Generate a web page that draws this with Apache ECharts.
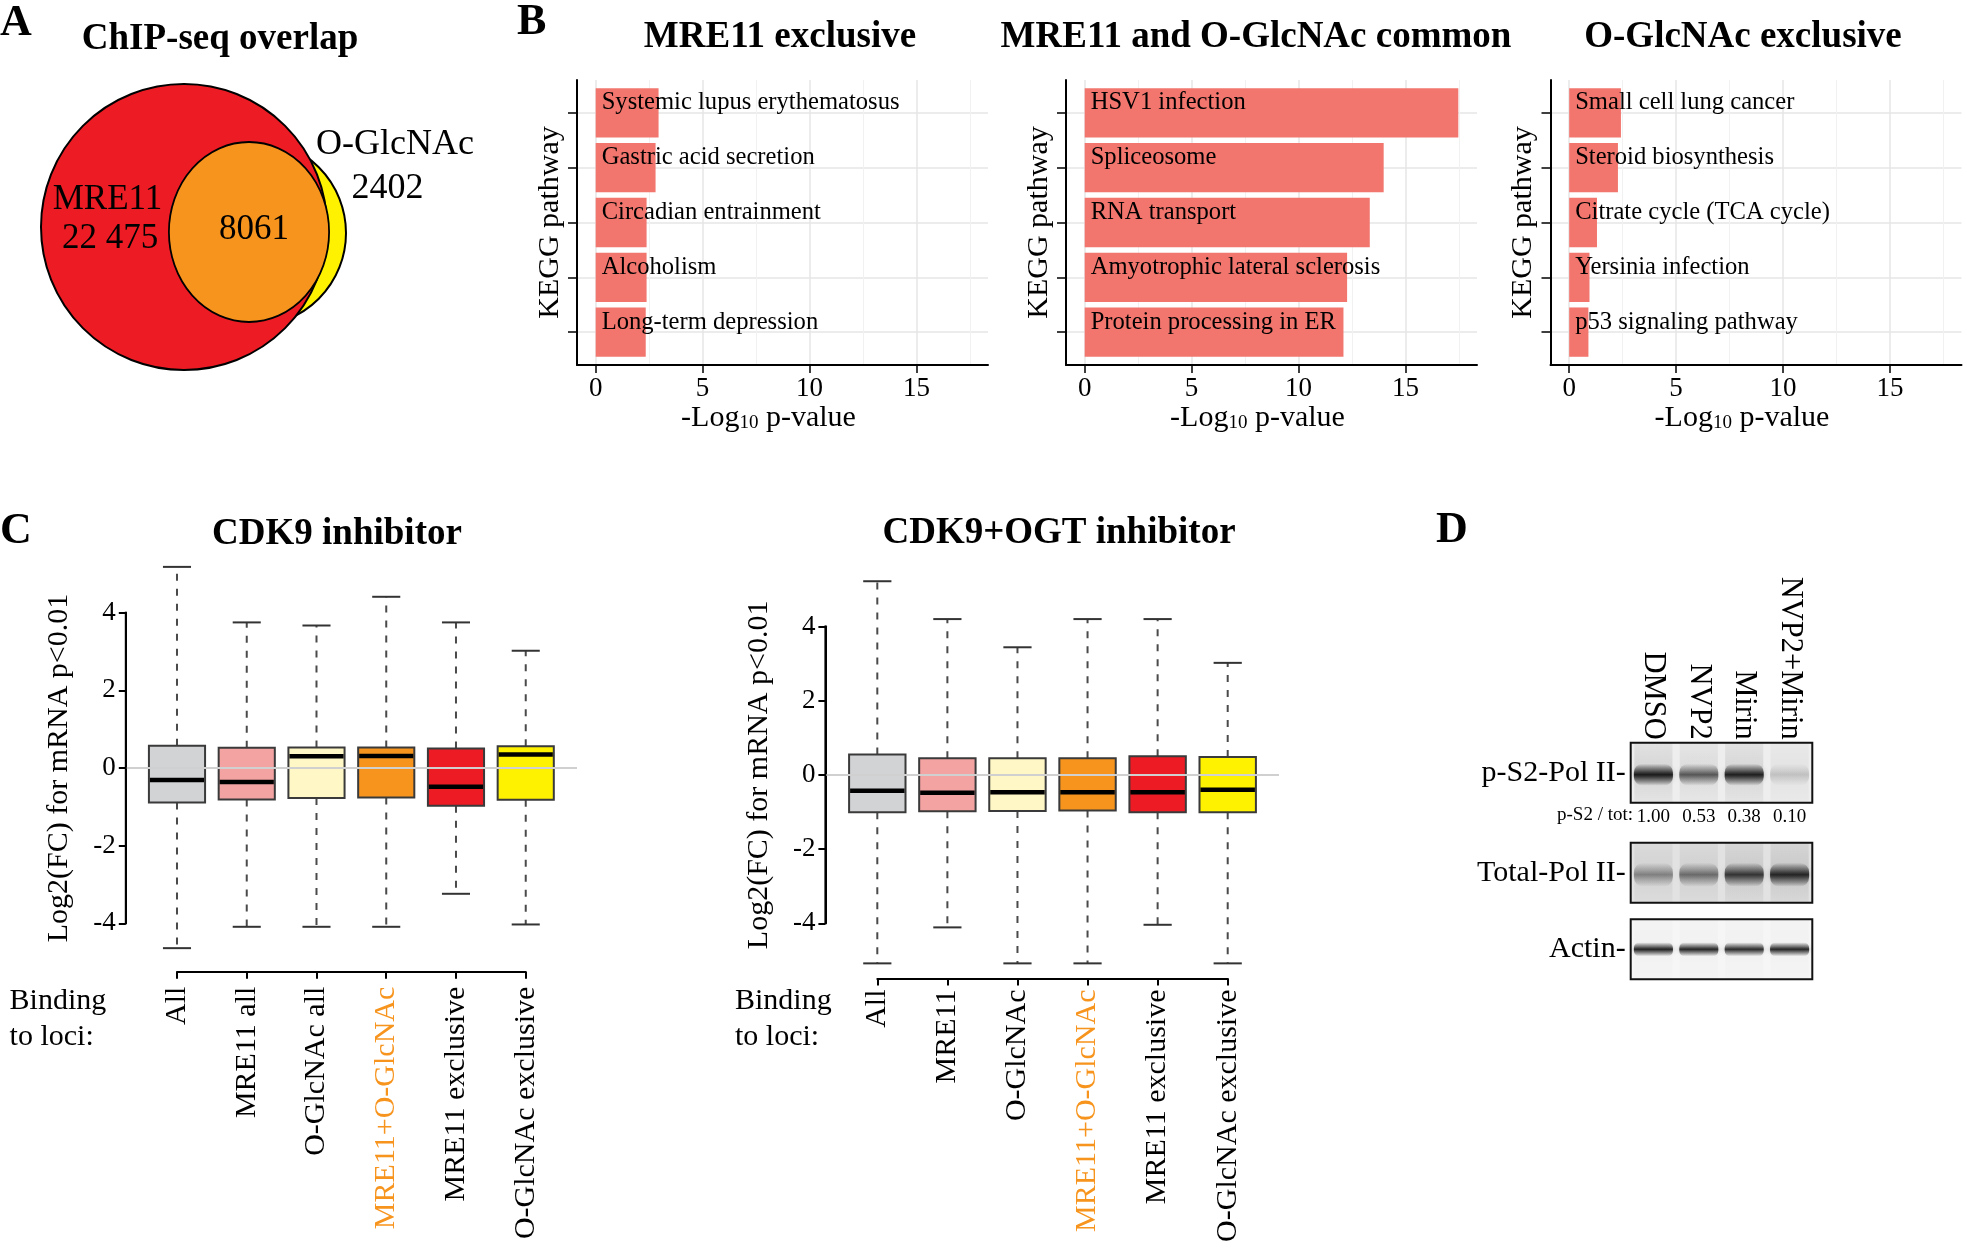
<!DOCTYPE html>
<html>
<head>
<meta charset="utf-8">
<script src="https://cdn.jsdelivr.net/npm/echarts@6/dist/echarts.min.js"></script>
<style>
html, body { margin: 0; padding: 0; background: #fff; }
#fig { width: 1967px; height: 1251px; }
</style>
</head>
<body>
<div id="fig"></div>
<script>
// ---- data ----
var vennLabels = ['MRE11', 'O-GlcNAc'];
var vennCounts = [22475, 8061, 2402]; // MRE11 only, both, O-GlcNAc only

var keggMre11Names = ['Systemic lupus erythematosus', 'Gastric acid secretion', 'Circadian entrainment', 'Alcoholism', 'Long-term depression'];
var keggMre11Vals = [2.94, 2.80, 2.38, 2.38, 2.34];
var keggCommonNames = ['HSV1 infection', 'Spliceosome', 'RNA transport', 'Amyotrophic lateral sclerosis', 'Protein processing in ER'];
var keggCommonVals = [17.47, 13.98, 13.33, 12.27, 12.10];
var keggOglcNames = ['Small cell lung cancer', 'Steroid biosynthesis', 'Citrate cycle (TCA cycle)', 'Yersinia infection', 'p53 signaling pathway'];
var keggOglcVals = [2.42, 2.28, 1.30, 0.95, 0.90];
var keggTicks = [0, 5, 10, 15];
var keggMinorTicks = [2.5, 7.5, 12.5, 17.5];

var lociCdk9 = ['All', 'MRE11 all', 'O-GlcNAc all', 'MRE11+O-GlcNAc', 'MRE11 exclusive', 'O-GlcNAc exclusive'];
var lociCdk9Ogt = ['All', 'MRE11', 'O-GlcNAc', 'MRE11+O-GlcNAc', 'MRE11 exclusive', 'O-GlcNAc exclusive'];
var boxColors = ['#D1D3D4', '#F4A3A3', '#FFF8C6', '#F7941D', '#ED1C24', '#FFF200'];
// [lower whisker, Q1, median, Q3, upper whisker]
var boxCdk9 = [
  [-4.64, -0.89, -0.31, 0.575, 5.18],
  [-4.09, -0.81, -0.36, 0.52, 3.75],
  [-4.09, -0.77, 0.30, 0.53, 3.67],
  [-4.09, -0.76, 0.31, 0.53, 4.41],
  [-3.24, -0.97, -0.48, 0.50, 3.75],
  [-4.03, -0.82, 0.35, 0.56, 3.02]
];
var boxCdk9Ogt = [
  [-5.08, -1.01, -0.43, 0.55, 5.22],
  [-4.11, -0.98, -0.48, 0.45, 4.20],
  [-5.08, -0.97, -0.47, 0.45, 3.44],
  [-5.08, -0.96, -0.47, 0.45, 4.20],
  [-4.04, -1.01, -0.47, 0.50, 4.20],
  [-5.08, -1.01, -0.40, 0.48, 3.02]
];
var cTicks = [-4, 4];

var lanes = ['DMSO', 'NVP2', 'Mirin', 'NVP2+Mirin'];
var pS2Ratio = [1.00, 0.53, 0.38, 0.10];
var pS2Band = [0.95, 0.62, 0.92, 0.16];     // band darkness read from blot
var totalBand = [0.40, 0.50, 0.78, 0.88];
var actinBand = [0.90, 0.88, 0.85, 0.88];

var FONT = 'Liberation Serif';
var chart = echarts.init(document.getElementById('fig'));

// ---- helpers ----
function txt(s, x, base, size, o) {
  o = o || {};
  return {
    type: 'text', x: x, y: base - 0.33 * size, z: 50,
    style: {
      text: s, fontFamily: FONT, fontSize: size, fontWeight: o.bold ? 'bold' : 'normal',
      fill: o.color || '#000', align: o.align || 'left', textAlign: o.align || 'left',
      verticalAlign: 'middle', textVerticalAlign: 'middle'
    }
  };
}

var allB = keggMre11Vals.concat(keggCommonVals, keggOglcVals);
var bTop = Math.max.apply(null, allB);
var bMin = -0.05 * bTop, bMax = 1.05 * bTop;

function barSeries(names, vals, k) {
  return {
    type: 'custom', xAxisIndex: k * 2, yAxisIndex: k, clip: false, z: 3,
    data: vals.map(function (v, i) { return [v, i + 1]; }),
    encode: { x: 0, y: 1 },
    renderItem: function (params, api) {
      var p0 = api.coord([0, api.value(1)]);
      var p1 = api.coord([api.value(0), api.value(1)]);
      var h = api.size([0, 0.9])[1];
      return {
        type: 'group', children: [
          { type: 'rect', shape: { x: p0[0], y: p0[1] - h / 2, width: p1[0] - p0[0], height: h }, style: { fill: '#F2766E' } },
          { type: 'text', x: p0[0] + 6, y: p0[1] - 10,
            style: { text: names[params.dataIndex], fontFamily: FONT, fontSize: 24.6, fill: '#000',
                     align: 'left', verticalAlign: 'middle' } }
        ]
      };
    }
  };
}

function bXAxes(g) {
  return [{
    type: 'value', gridIndex: g, min: bMin, max: bMax, position: 'bottom',
    axisLine: { show: true, onZero: false, lineStyle: { color: '#000', width: 2 } },
    axisTick: { show: true, length: 8, customValues: keggTicks, lineStyle: { color: '#000', width: 1.5 } },
    axisLabel: { customValues: keggTicks, fontFamily: FONT, fontSize: 27, color: '#000', margin: 10 },
    splitLine: { show: true, lineStyle: { color: '#e6e6e6', width: 1.5 } },
    name: '{m|-Log}{s|10}{m| p-value}', nameLocation: 'middle', nameGap: 36,
    nameTextStyle: { padding: [0, 28, 0, 0], rich: {
      m: { fontFamily: FONT, fontSize: 30, color: '#000', verticalAlign: 'bottom', lineHeight: 32 },
      s: { fontFamily: FONT, fontSize: 19, color: '#000', verticalAlign: 'bottom', lineHeight: 26 }
    } }
  }, {
    type: 'value', gridIndex: g, min: bMin, max: bMax, position: 'top',
    axisLine: { show: false, onZero: false }, axisLabel: { show: false },
    axisTick: { show: false, customValues: keggMinorTicks },
    splitLine: { show: true, lineStyle: { color: '#f1f1f1', width: 1 } }
  }];
}

function bYAxis(g) {
  return {
    type: 'value', gridIndex: g, min: 0.4, max: 5.6, inverse: true,
    axisLine: { show: true, onZero: false, lineStyle: { color: '#000', width: 2 } },
    axisTick: { show: true, length: 9, customValues: [1, 2, 3, 4, 5], lineStyle: { color: '#000', width: 1.5 } },
    axisLabel: { show: false },
    splitLine: { show: true, lineStyle: { color: '#e6e6e6', width: 1.5 } },
    name: 'KEGG pathway', nameLocation: 'middle', nameGap: 12,
    nameTextStyle: { fontFamily: FONT, fontSize: 30, color: '#000' }
  };
}

// box positions are 1..6 on a hidden value axis
function boxSeries(rows, xIdx, yIdx) {
  return {
    type: 'custom', xAxisIndex: xIdx, yAxisIndex: yIdx, clip: false, z: 3,
    data: rows.map(function (r, i) { return [i + 1].concat(r); }),
    encode: { x: 0, y: [1, 2, 3, 4, 5] },
    renderItem: function (params, api) {
      var i = api.value(0);
      var lo = api.coord([i, api.value(1)]), q1 = api.coord([i, api.value(2)]);
      var md = api.coord([i, api.value(3)]), q3 = api.coord([i, api.value(4)]);
      var hi = api.coord([i, api.value(5)]);
      var bw = api.size([0.805, 0])[0], cw = bw / 2, x = md[0];
      function dash() { return { stroke: '#4a4a4a', lineWidth: 2, lineDash: [7, 8] }; }
      function cap() { return { stroke: '#333', lineWidth: 2 }; }
      return {
        type: 'group', children: [
          { type: 'line', shape: { x1: x, y1: q3[1], x2: x, y2: hi[1] }, style: dash() },
          { type: 'line', shape: { x1: x, y1: q1[1], x2: x, y2: lo[1] }, style: dash() },
          { type: 'line', shape: { x1: x - cw / 2, y1: hi[1], x2: x + cw / 2, y2: hi[1] }, style: cap() },
          { type: 'line', shape: { x1: x - cw / 2, y1: lo[1], x2: x + cw / 2, y2: lo[1] }, style: cap() },
          { type: 'rect', shape: { x: x - bw / 2, y: q3[1], width: bw, height: q1[1] - q3[1] },
            style: { fill: boxColors[params.dataIndex], stroke: '#3a3a3a', lineWidth: 2 } },
          { type: 'line', shape: { x1: x - bw / 2 + 1, y1: md[1], x2: x + bw / 2 - 1, y2: md[1] },
            style: { stroke: '#000', lineWidth: 4.5 } }
        ]
      };
    }
  };
}

function cYAxis(g, gap) {
  return {
    type: 'value', gridIndex: g, min: -4, max: 4, interval: 2,
    axisLine: { show: true, onZero: false, lineStyle: { color: '#000', width: 2 } },
    axisTick: { show: true, length: 7, lineStyle: { color: '#000', width: 2 } },
    axisLabel: { fontFamily: FONT, fontSize: 27, color: '#000', margin: 10 },
    splitLine: { show: false },
    name: 'Log2(FC) for mRNA p<0.01', nameLocation: 'middle', nameGap: gap,
    nameTextStyle: { fontFamily: FONT, fontSize: 30, color: '#000' }
  };
}

function cCatAxis(g, names, margin) {
  return {
    type: 'category', gridIndex: g, data: names, boundaryGap: false, position: 'bottom',
    axisLine: { show: true, onZero: false, lineStyle: { color: '#000', width: 2 } },
    axisTick: { show: true, length: 7, interval: 0, lineStyle: { color: '#000', width: 2 } },
    axisLabel: { interval: 0, rotate: 90, margin: margin, fontFamily: FONT, fontSize: 30,
      color: function (v) { return v === 'MRE11+O-GlcNAc' ? '#F7941D' : '#000'; } }
  };
}

function zeroLine(xIdx, yIdx) {
  return {
    type: 'line', xAxisIndex: xIdx, yAxisIndex: yIdx, data: [], z: 1, silent: true,
    markLine: { silent: true, symbol: ['none', 'none'], label: { show: false },
      lineStyle: { color: '#d0d0d0', width: 2, type: 'solid' }, data: [{ yAxis: 0 }] }
  };
}

function blotSeries(vals, xIdx, yIdx, o) {
  return {
    type: 'custom', xAxisIndex: xIdx, yAxisIndex: yIdx, clip: true, z: 3,
    data: vals.map(function (v, i) { return [i, 0, v]; }),
    encode: { x: 0, y: 1 },
    renderItem: function (params, api) {
      var c = api.coord([api.value(0), 0]);
      var w = api.size([1, 0])[0];
      var k = api.value(2);
      var r = params.coordSys;
      var s = o.smear * (0.5 + k);
      var by = c[1] + o.dy;
      return {
        type: 'group', children: [
          { type: 'rect', shape: { x: c[0] - w * 0.42, y: r.y, width: w * 0.84, height: r.height },
            style: { fill: new echarts.graphic.LinearGradient(0, 0, 0, 1, [
              { offset: 0, color: 'rgba(0,0,0,' + (s * 0.5) + ')' },
              { offset: 0.5, color: 'rgba(0,0,0,' + s + ')' },
              { offset: 1, color: 'rgba(0,0,0,' + (s * 0.4) + ')' }]),
              shadowBlur: 6, shadowColor: 'rgba(0,0,0,' + (s * 0.5) + ')' } },
          { type: 'rect', shape: { x: c[0] - w * 0.43, y: by - o.h / 2, width: w * 0.86, height: o.h, r: o.h / 2.5 },
            style: { fill: new echarts.graphic.LinearGradient(0, 0, 0, 1, [
              { offset: 0, color: 'rgba(20,20,20,0)' },
              { offset: 0.3, color: 'rgba(20,20,20,' + (k * 0.55) + ')' },
              { offset: 0.5, color: 'rgba(20,20,20,' + k + ')' },
              { offset: 0.7, color: 'rgba(20,20,20,' + (k * 0.55) + ')' },
              { offset: 1, color: 'rgba(20,20,20,0)' }]),
              shadowBlur: 5, shadowColor: 'rgba(20,20,20,' + (k * 0.35) + ')' } }
        ]
      };
    }
  };
}

function blotYAxis(g, label) {
  return {
    type: 'category', gridIndex: g, data: [label],
    axisLine: { show: false }, axisTick: { show: false },
    axisLabel: { margin: 5, fontFamily: FONT, fontSize: 30, color: '#000' }
  };
}

// ---- layout ----
var grids = [
  { left: 577, top: 80, width: 411, height: 285 },
  { left: 1066, top: 80, width: 411, height: 285 },
  { left: 1550.5, top: 80, width: 411, height: 285 },
  { left: 125.8, top: 612.7, width: 451.2, height: 310.6 },
  { left: 177, top: 970.7, width: 348.7, height: 1 },
  { left: 825.4, top: 626.5, width: 453.6, height: 296.8 },
  { left: 877.3, top: 977.5, width: 350.4, height: 1 },
  { left: 1630.7, top: 742.7, width: 181.6, height: 60, show: true, borderColor: '#111', borderWidth: 2, backgroundColor: '#eeeeee' },
  { left: 1630.7, top: 842.7, width: 181.6, height: 60, show: true, borderColor: '#111', borderWidth: 2, backgroundColor: '#e2e2e2' },
  { left: 1630.7, top: 919.3, width: 181.6, height: 60, show: true, borderColor: '#111', borderWidth: 2, backgroundColor: '#f6f6f6' }
];

var c1Min = 0.266, c1Max = 6.735, c2Min = 0.2594, c2Max = 6.732;

var xAxes = [].concat(bXAxes(0), bXAxes(1), bXAxes(2), [
  { type: 'value', gridIndex: 3, show: false, min: c1Min, max: c1Max },
  cCatAxis(4, lociCdk9, 15),
  { type: 'value', gridIndex: 5, show: false, min: c2Min, max: c2Max },
  cCatAxis(6, lociCdk9Ogt, 11),
  { type: 'category', gridIndex: 7, data: lanes, position: 'top',
    axisLine: { show: false }, axisTick: { show: false },
    axisLabel: { interval: 0, rotate: 90, margin: 3, fontFamily: FONT, fontSize: 30.5, color: '#000' } },
  { type: 'category', gridIndex: 7, data: pS2Ratio.map(function (v) { return v.toFixed(2); }), position: 'bottom',
    axisLine: { show: false }, axisTick: { show: false },
    axisLabel: { interval: 0, margin: 5, fontFamily: FONT, fontSize: 19, color: '#000' } },
  { type: 'category', gridIndex: 8, data: lanes, show: false },
  { type: 'category', gridIndex: 9, data: lanes, show: false }
]);

var yAxes = [
  bYAxis(0), bYAxis(1), bYAxis(2),
  cYAxis(3, 52),
  { type: 'value', gridIndex: 4, show: false },
  cYAxis(5, 51),
  { type: 'value', gridIndex: 6, show: false },
  blotYAxis(7, 'p-S2-Pol II-'),
  blotYAxis(8, 'Total-Pol II-'),
  blotYAxis(9, 'Actin-')
];

var series = [
  barSeries(keggMre11Names, keggMre11Vals, 0),
  barSeries(keggCommonNames, keggCommonVals, 1),
  barSeries(keggOglcNames, keggOglcVals, 2),
  zeroLine(6, 3),
  boxSeries(boxCdk9, 6, 3),
  zeroLine(8, 5),
  boxSeries(boxCdk9Ogt, 8, 5),
  blotSeries(pS2Band, 10, 7, { h: 22, dy: 2, smear: 0.07 }),
  blotSeries(totalBand, 12, 8, { h: 24, dy: 2, smear: 0.08 }),
  blotSeries(actinBand, 13, 9, { h: 14, dy: 0, smear: 0.015 })
];

// left axis rule of the two box panels (spans the tick range, R style)
function ruleFor(g) {
  return { type: 'line', z: 60,
    shape: { x1: g.left, y1: g.top - 1, x2: g.left, y2: g.top + g.height + 1 },
    style: { stroke: '#000', lineWidth: 2 } };
}

// Venn diagram (panel A) drawn as shapes
var graphics = [
  { type: 'circle', shape: { cx: 253, cy: 233, r: 93 }, style: { fill: '#FFF200', stroke: '#000', lineWidth: 2 } },
  { type: 'circle', shape: { cx: 184, cy: 227, r: 143 }, style: { fill: '#ED1C24', stroke: '#000', lineWidth: 2 } },
  { type: 'circle', x: 249, y: 232, scaleX: 0.89, shape: { cx: 0, cy: 0, r: 90 }, style: { fill: '#F7941D', stroke: '#000', lineWidth: 2 } },
  txt(vennLabels[0], 107.5, 211.7, 35, { align: 'center' }),
  txt(vennCounts[0].toLocaleString('en-US').replace(',', ' '), 110, 250, 35, { align: 'center' }),
  txt(String(vennCounts[1]), 254, 241.7, 35, { align: 'center' }),
  txt(vennLabels[1], 395, 156.7, 36, { align: 'center' }),
  txt(String(vennCounts[2]), 387.5, 200, 36, { align: 'center' }),

  ruleFor(grids[3]),
  ruleFor(grids[5]),

  txt('A', 0, 38, 44, { bold: true }),
  txt('ChIP-seq overlap', 220, 52, 37, { bold: true, align: 'center' }),
  txt('B', 517, 37, 44, { bold: true }),
  txt('MRE11 exclusive', 780, 50, 37, { bold: true, align: 'center' }),
  txt('MRE11 and O-GlcNAc common', 1256, 50, 37, { bold: true, align: 'center' }),
  txt('O-GlcNAc exclusive', 1743, 50, 37, { bold: true, align: 'center' }),
  txt('C', 0, 546, 44, { bold: true }),
  txt('CDK9 inhibitor', 337, 546.7, 37, { bold: true, align: 'center' }),
  txt('CDK9+OGT inhibitor', 1059, 546, 37, { bold: true, align: 'center' }),
  txt('D', 1436, 545, 44, { bold: true }),
  txt('Binding', 9.6, 1011, 30),
  txt('to loci:', 9.6, 1046.7, 30),
  txt('Binding', 735, 1011, 30),
  txt('to loci:', 735, 1046.7, 30),
  txt('p-S2 / tot:', 1633, 821.7, 19, { align: 'right' })
];

var option = {
  animation: false,
  backgroundColor: '#fff',
  textStyle: { fontFamily: FONT },
  grid: grids,
  xAxis: xAxes,
  yAxis: yAxes,
  series: series,
  graphic: graphics
};

chart.setOption(option);
</script>
</body>
</html>
